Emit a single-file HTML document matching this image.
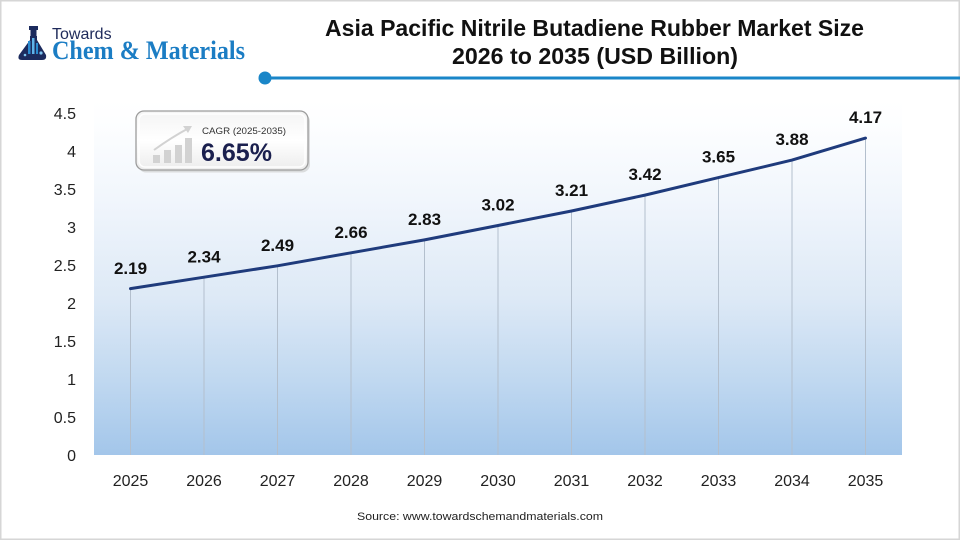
<!DOCTYPE html>
<html>
<head>
<meta charset="utf-8">
<style>
html,body{margin:0;padding:0;background:#fff;}
svg{display:block;}
text{font-family:"Liberation Sans",sans-serif;}
</style>
</head>
<body>
<svg width="960" height="540" viewBox="0 0 960 540" xmlns="http://www.w3.org/2000/svg">
<defs>
<linearGradient id="bg" x1="0" y1="0" x2="0" y2="1">
<stop offset="0" stop-color="#ffffff"/>
<stop offset="0.06" stop-color="#fdfeff"/>
<stop offset="0.28" stop-color="#f1f6fc"/>
<stop offset="0.56" stop-color="#dde9f6"/>
<stop offset="0.79" stop-color="#c0d8f0"/>
<stop offset="1" stop-color="#a3c6ea"/>
</linearGradient>
<linearGradient id="box" x1="0" y1="0" x2="0" y2="1">
<stop offset="0" stop-color="#f4f4f4"/>
<stop offset="0.5" stop-color="#ffffff"/>
<stop offset="1" stop-color="#ececec"/>
</linearGradient>
</defs>

<rect x="0.75" y="0.75" width="958.5" height="538.5" fill="#fff" stroke="#d6d6d6" stroke-width="1.5"/>

<!-- Logo -->
<g>
<rect x="29" y="26" width="9" height="4" fill="#1c2b5e"/>
<rect x="30.5" y="30" width="6" height="7" fill="#1c2b5e"/>
<path d="M30 36 L37 36 L37 40 L46 55 Q47 60 42 60 L22 60 Q17 60 19 55 L30 40 Z" fill="#1c2b5e"/>
<rect x="28" y="41" width="2.5" height="13" fill="#2a8bd0"/>
<rect x="32" y="38" width="2.5" height="16" fill="#5fb3ea"/>
<rect x="36" y="43" width="2" height="11" fill="#2a8bd0"/>
<circle cx="41" cy="53" r="1.6" fill="#7fc4f0"/>
<circle cx="25" cy="55" r="1.3" fill="#7fc4f0"/>
</g>
<text x="52" y="39" font-size="16" fill="#1e2a5a">Towards</text>
<text x="52" y="59" font-size="26" font-weight="bold" fill="#1b7dc4" font-family="Liberation Serif, serif" style="font-family:'Liberation Serif',serif" textLength="193" lengthAdjust="spacingAndGlyphs">Chem &amp; Materials</text>

<!-- Title -->
<text x="594.5" y="36" font-size="23" font-weight="bold" fill="#111" text-anchor="middle" textLength="539" lengthAdjust="spacingAndGlyphs">Asia Pacific Nitrile Butadiene Rubber Market Size</text>
<text x="595" y="64" font-size="23" font-weight="bold" fill="#111" text-anchor="middle" textLength="286" lengthAdjust="spacingAndGlyphs">2026 to 2035 (USD Billion)</text>
<rect x="265" y="76.5" width="695" height="3" fill="#1a86c8"/>
<circle cx="265" cy="78" r="6.5" fill="#1a86c8"/>

<!-- Plot background -->
<rect x="94" y="100" width="808" height="355" fill="url(#bg)"/>

<!-- Drop lines -->
<g stroke="#b3bfcd" stroke-width="1">
<line x1="130.5" y1="288.6" x2="130.5" y2="455"/>
<line x1="204" y1="277.2" x2="204" y2="455"/>
<line x1="277.5" y1="265.8" x2="277.5" y2="455"/>
<line x1="351" y1="252.8" x2="351" y2="455"/>
<line x1="424.5" y1="239.9" x2="424.5" y2="455"/>
<line x1="498" y1="225.5" x2="498" y2="455"/>
<line x1="571.5" y1="211" x2="571.5" y2="455"/>
<line x1="645" y1="195.1" x2="645" y2="455"/>
<line x1="718.5" y1="177.6" x2="718.5" y2="455"/>
<line x1="792" y1="160.1" x2="792" y2="455"/>
<line x1="865.5" y1="138.1" x2="865.5" y2="455"/>
</g>

<!-- Series line -->
<polyline fill="none" stroke="#1f3b7c" stroke-width="3" stroke-linejoin="round" stroke-linecap="round"
points="130.5,288.6 204,277.2 277.5,265.8 351,252.8 424.5,239.9 498,225.5 571.5,211 645,195.1 718.5,177.6 792,160.1 865.5,138.1"/>

<!-- Data labels -->
<g font-size="17" font-weight="bold" fill="#111" text-anchor="middle">
<text x="130.5" y="274">2.19</text>
<text x="204" y="262.5">2.34</text>
<text x="277.5" y="251">2.49</text>
<text x="351" y="238">2.66</text>
<text x="424.5" y="225">2.83</text>
<text x="498" y="210.5">3.02</text>
<text x="571.5" y="196">3.21</text>
<text x="645" y="180">3.42</text>
<text x="718.5" y="162.5">3.65</text>
<text x="792" y="145">3.88</text>
<text x="865.5" y="123">4.17</text>
</g>

<!-- Y axis labels -->
<g font-size="16" fill="#222" text-anchor="end">
<text x="76" y="119">4.5</text>
<text x="76" y="157">4</text>
<text x="76" y="195">3.5</text>
<text x="76" y="233">3</text>
<text x="76" y="271">2.5</text>
<text x="76" y="309">2</text>
<text x="76" y="347">1.5</text>
<text x="76" y="385">1</text>
<text x="76" y="423">0.5</text>
<text x="76" y="461">0</text>
</g>

<!-- X axis labels -->
<g font-size="16" fill="#222" text-anchor="middle">
<text x="130.5" y="486">2025</text>
<text x="204" y="486">2026</text>
<text x="277.5" y="486">2027</text>
<text x="351" y="486">2028</text>
<text x="424.5" y="486">2029</text>
<text x="498" y="486">2030</text>
<text x="571.5" y="486">2031</text>
<text x="645" y="486">2032</text>
<text x="718.5" y="486">2033</text>
<text x="792" y="486">2034</text>
<text x="865.5" y="486">2035</text>
</g>

<!-- CAGR box -->
<rect x="137" y="112" width="172" height="59" rx="8" ry="8" fill="#c8c8c8" opacity="0.6" transform="translate(1,1.5)"/>
<rect x="136" y="111" width="172" height="59" rx="8" ry="8" fill="url(#box)" stroke="#9c9c9c" stroke-width="1.3"/>
<rect x="139" y="114" width="166" height="53" rx="6" ry="6" fill="none" stroke="#ffffff" stroke-width="1.5" opacity="0.9"/>
<g fill="#d2d2d2">
<rect x="153" y="155" width="7" height="8"/>
<rect x="164" y="150" width="7" height="13"/>
<rect x="175" y="145" width="7" height="18"/>
<rect x="185" y="138" width="7" height="25"/>
</g>
<path d="M154 150 Q172 137 189 128" fill="none" stroke="#d2d2d2" stroke-width="2"/>
<path d="M183 126 L192 126 L188 133 Z" fill="#d2d2d2"/>
<text x="202" y="134" font-size="9.5" fill="#333" textLength="84" lengthAdjust="spacingAndGlyphs">CAGR (2025-2035)</text>
<text x="201" y="161" font-size="25" font-weight="bold" fill="#1a1f4e" textLength="71" lengthAdjust="spacingAndGlyphs">6.65%</text>

<!-- Source -->
<text x="480" y="520" font-size="11" fill="#222" text-anchor="middle" textLength="246" lengthAdjust="spacingAndGlyphs">Source: www.towardschemandmaterials.com</text>
</svg>
</body>
</html>
